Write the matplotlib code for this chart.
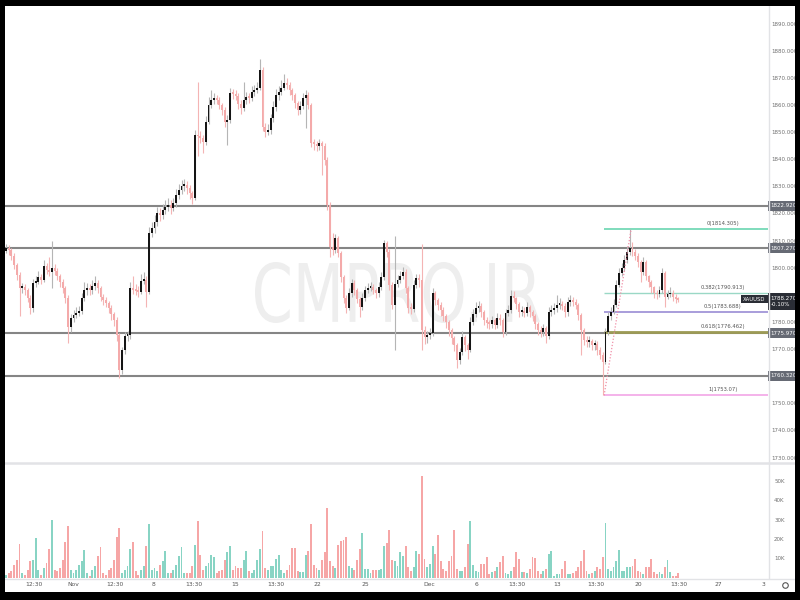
import matplotlib
matplotlib.use("Agg")
import matplotlib.pyplot as plt
import numpy as np
from matplotlib.patches import Rectangle, PathPatch
from matplotlib.lines import Line2D
from matplotlib.textpath import TextPath
from matplotlib.font_manager import FontProperties
from matplotlib.transforms import Affine2D, blended_transform_factory

# ---------------- data (XAUUSD, 4h bars) ----------------
first_open = 1806.5
closes = [
    1807.4, 1806.7, 1804.5, 1801.2, 1797.5, 1792.7, 1793.0, 1791.9, 1789.0, 1785.3,
    1794.5, 1794.9, 1796.7, 1795.6, 1800.8, 1799.3, 1798.6, 1800.0, 1798.9, 1797.1,
    1794.9, 1792.7, 1789.0, 1778.3, 1781.6, 1782.7, 1783.5, 1784.2, 1789.0, 1791.9,
    1792.3, 1791.9, 1793.4, 1794.5, 1792.7, 1789.4, 1788.2, 1787.1, 1785.3, 1783.1,
    1780.9, 1775.3, 1762.4, 1769.8, 1775.0, 1775.3, 1792.7, 1791.9, 1791.6, 1791.2,
    1795.3, 1795.6, 1791.2, 1813.0, 1814.8, 1817.0, 1820.3, 1819.6, 1821.5, 1822.5,
    1823.3, 1822.2, 1824.0, 1827.0, 1828.8, 1830.3, 1830.6, 1829.5, 1827.7, 1825.9,
    1849.1, 1848.6, 1848.0, 1846.5, 1853.9, 1860.1, 1862.0, 1862.7, 1862.0, 1860.1,
    1858.3, 1853.9, 1854.6, 1864.6, 1864.2, 1863.5, 1860.5, 1859.0, 1862.0, 1863.1,
    1862.7, 1864.9, 1865.7, 1866.4, 1873.0, 1852.0, 1850.2, 1850.9, 1855.3, 1859.4,
    1863.8, 1864.9, 1866.4, 1868.2, 1867.5, 1865.7, 1863.8, 1860.9, 1858.3, 1859.8,
    1862.7, 1863.8, 1860.1, 1846.1, 1845.8, 1845.0, 1846.1, 1845.0, 1839.9, 1823.3,
    1807.8, 1806.7, 1811.1, 1805.6, 1796.7, 1789.0, 1785.3, 1790.8, 1794.5, 1791.9,
    1788.6, 1785.7, 1789.0, 1791.9, 1792.7, 1793.0, 1791.9, 1790.8, 1793.0, 1796.7,
    1809.3, 1806.0, 1793.8, 1786.4, 1794.1, 1795.6, 1797.1, 1798.6, 1792.7, 1785.3,
    1784.9, 1793.8, 1796.4, 1795.6, 1777.2, 1774.6, 1775.3, 1776.1, 1790.8, 1788.2,
    1786.4, 1784.6, 1782.3, 1780.1, 1777.2, 1774.2, 1771.7, 1766.1, 1769.1, 1774.6,
    1771.7, 1769.8, 1780.1, 1783.1, 1785.3, 1786.0, 1783.8, 1780.9, 1779.7, 1779.4,
    1780.9, 1779.0, 1781.6, 1780.9, 1776.5, 1783.5, 1784.6, 1789.7, 1789.0, 1786.8,
    1783.8, 1784.0, 1783.6, 1785.7, 1783.8, 1782.3, 1779.4, 1777.2, 1776.5, 1777.9,
    1775.0, 1783.8, 1784.6, 1785.3, 1786.4, 1786.7, 1786.0, 1783.8, 1787.5, 1787.8,
    1787.5, 1786.4, 1782.7, 1777.2, 1773.5, 1772.8, 1773.2, 1771.7, 1772.0, 1769.8,
    1768.0, 1765.4, 1776.5, 1782.3, 1783.8, 1786.4, 1793.8, 1798.2, 1800.0, 1803.0,
    1805.9, 1807.4, 1805.9, 1804.5, 1802.3, 1798.6, 1802.3, 1797.1, 1794.9, 1793.0,
    1790.8, 1790.4, 1791.9, 1798.2, 1789.5, 1790.4, 1791.0, 1789.4, 1788.6, 1788.27,
]
highs = [
    1809, 1808.5, 1807.5, 1805.5, 1802, 1798.5, 1794.5, 1794, 1792.5, 1790,
    1796, 1797, 1799, 1798, 1803, 1802, 1804, 1810, 1801.5, 1800,
    1798, 1796, 1793.5, 1790, 1783, 1784.5, 1785.5, 1786, 1791, 1795,
    1794.5, 1794, 1795.5, 1797, 1795.5, 1793.5, 1790.5, 1789.5, 1788, 1786.5,
    1784, 1782, 1776, 1771, 1776.5, 1777, 1795, 1797, 1794, 1793.5,
    1798, 1798.5, 1797, 1815, 1817, 1819.5, 1822.5, 1822, 1823.5, 1825,
    1826, 1825, 1826, 1829, 1831, 1832.5, 1833, 1832, 1830.5, 1828.5,
    1851, 1868.5, 1850.5, 1849, 1856, 1863, 1865.5, 1864.5, 1864, 1863,
    1861, 1859.5, 1856.5, 1866.5, 1866, 1865.5, 1864.5, 1862, 1868.5, 1865,
    1864.5, 1867, 1867.5, 1868.5, 1877, 1874, 1853.5, 1853, 1857, 1861.5,
    1866, 1867, 1869.5, 1871.5, 1870, 1868.5, 1866.5, 1864.5, 1861.5, 1861.5,
    1864.5, 1865.5, 1865, 1861, 1847.5, 1847, 1847.5, 1847, 1846, 1841,
    1824.5, 1813, 1812.5, 1812, 1806.5, 1797.5, 1790, 1792.5, 1796, 1795.5,
    1792.5, 1789.5, 1791, 1793.5, 1794.5, 1795, 1794, 1792.5, 1795, 1798.5,
    1810.5, 1810, 1807, 1795, 1812, 1797.5, 1799, 1800.5, 1799.5, 1793.5,
    1787, 1795.5, 1798, 1798, 1809, 1778.5, 1777, 1778, 1792.5, 1791.5,
    1789, 1787.5, 1785.5, 1783, 1781, 1778, 1775, 1772.5, 1770.5, 1777,
    1775.5, 1772.5, 1782, 1785, 1787.5, 1788, 1787, 1784.5, 1782, 1781,
    1782.5, 1781.5, 1783.5, 1783, 1781.5, 1785, 1786.5, 1792, 1791.5, 1789.5,
    1787.5, 1786, 1785.5, 1787.5, 1786.5, 1784.5, 1783, 1780, 1778.5, 1779.5,
    1778.5, 1785.5, 1786.5, 1787, 1790, 1789, 1788, 1787, 1789.5, 1790,
    1789.5, 1788.5, 1787, 1783.5, 1778, 1775, 1775, 1774, 1773.5, 1773,
    1771, 1769, 1778, 1784, 1785.5, 1788.5, 1795.5, 1800, 1802, 1805,
    1808, 1814.3, 1809.5, 1807, 1805.5, 1803, 1804, 1803, 1797.5, 1795.5,
    1793.5, 1792, 1793.5, 1800, 1799, 1792, 1793, 1792, 1790.5, 1789.5,
]
lows = [
    1805.5, 1805, 1803, 1799.5, 1795.5, 1782.5, 1791, 1790, 1787.5, 1783,
    1784, 1793, 1794, 1794, 1795, 1798, 1797, 1792.5, 1797.5, 1795.5,
    1793, 1791, 1787, 1772.5, 1776.5, 1780, 1781.5, 1782.5, 1783, 1788,
    1790, 1790, 1790.5, 1792, 1791, 1788, 1786.5, 1785.5, 1783.5, 1781,
    1778.5, 1773, 1759.5, 1761, 1768.5, 1773, 1774, 1790.5, 1790, 1789.5,
    1790.5, 1794, 1785.5, 1790.5, 1811.5, 1813, 1815.5, 1817.5, 1818, 1820,
    1821, 1820, 1821, 1822.5, 1825.5, 1827.5, 1828.5, 1827.5, 1825.5, 1823.5,
    1825, 1841.5, 1846, 1842.5, 1845.5, 1853, 1859, 1860.5, 1860.5, 1858.5,
    1856.5, 1852, 1845.5, 1853.5, 1862.5, 1862, 1858.5, 1857, 1858, 1860.5,
    1861, 1861.5, 1863.5, 1864.5, 1865.5, 1850.5, 1848.5, 1849, 1849.5, 1854,
    1858, 1862, 1864, 1865.5, 1866, 1864, 1862, 1859, 1856.5, 1857,
    1858.5, 1851.5, 1858.5, 1844.5, 1843.5, 1843, 1843.5, 1834.5, 1838, 1821.5,
    1804, 1805, 1805.5, 1804, 1795, 1787, 1783.5, 1784.5, 1789.5, 1790,
    1787, 1782, 1784.5, 1788, 1791, 1791.5, 1790.5, 1789, 1789.5, 1792,
    1795.5, 1804, 1792, 1785, 1770, 1793, 1794.5, 1796, 1791, 1783.5,
    1783, 1784, 1792.5, 1793, 1770, 1772, 1772.5, 1774, 1775, 1786.5,
    1784.5, 1782.5, 1780.5, 1778, 1775, 1772, 1769.5, 1763, 1764.5, 1768,
    1769.5, 1766.5, 1769, 1779, 1782, 1784, 1782, 1779, 1778, 1777.5,
    1778, 1777.5, 1778, 1779, 1774.5, 1775.5, 1782.5, 1783.5, 1787.5, 1785,
    1782, 1782.5, 1782, 1782.5, 1782, 1780.5, 1777.5, 1775.5, 1774.5, 1775,
    1772.5, 1774, 1782.5, 1783, 1784, 1785, 1784.5, 1782, 1782.5, 1786,
    1786, 1785, 1781, 1768, 1771.5, 1771, 1771, 1770, 1770, 1768,
    1766.5, 1753.07, 1764.5, 1775.5, 1781, 1783, 1785.5, 1793, 1797, 1799,
    1802, 1805, 1804.5, 1803, 1800.5, 1795, 1797.5, 1795.5, 1793, 1791,
    1789, 1788.5, 1789.5, 1791, 1785.5, 1788.5, 1789.5, 1788, 1787, 1787.5,
]
volumes_k = [
    1.7, 2.5, 3.5, 6.9, 9.5, 17.8, 2.6, 1.7, 4.3, 8.7,
    9.5, 20.8, 4.3, 1.7, 5.2, 7.8, 15.0, 30.0, 4.3, 3.5,
    5.2, 9.5, 18.5, 27.2, 4.3, 2.6, 4.3, 6.9, 8.7, 14.7,
    2.6, 0.9, 4.3, 6.4, 11.3, 16.1, 2.6, 1.7, 4.3, 5.2,
    9.5, 21.3, 26.0, 2.6, 4.3, 6.4, 15.0, 18.9, 3.5, 1.7,
    4.3, 6.1, 16.8, 28.0, 4.3, 5.2, 3.5, 6.9, 8.7, 13.9,
    2.6, 2.6, 4.3, 6.9, 11.3, 16.1, 2.6, 2.6, 2.6, 6.4,
    17.3, 29.4, 12.1, 4.3, 6.1, 7.8, 12.1, 10.7, 2.6, 3.5,
    4.3, 9.5, 13.3, 16.8, 4.3, 6.4, 5.2, 5.2, 9.5, 13.9,
    3.5, 2.6, 4.3, 9.5, 15.0, 24.2, 5.2, 4.3, 6.1, 6.1,
    9.9, 12.1, 4.3, 2.6, 4.3, 6.9, 15.6, 15.6, 3.5, 2.9,
    2.9, 12.1, 13.9, 28.2, 6.9, 5.2, 4.3, 9.5, 13.3, 36.4,
    8.7, 6.1, 5.2, 17.3, 19.0, 19.9, 21.3, 6.4, 5.2, 4.3,
    9.5, 15.0, 23.4, 4.7, 4.7, 2.6, 4.3, 4.0, 4.3, 4.7,
    16.8, 18.2, 25.1, 9.5, 9.0, 6.0, 13.3, 11.6, 16.8, 5.5,
    3.8, 5.5, 14.2, 12.5, 53.2, 9.9, 5.5, 7.3, 16.8, 12.5,
    22.5, 9.0, 4.7, 3.8, 9.0, 11.6, 24.9, 4.7, 3.8, 3.8,
    5.5, 17.7, 29.4, 6.9, 3.8, 2.9, 7.3, 7.3, 10.7, 2.1,
    2.9, 3.8, 5.5, 8.1, 11.6, 2.4, 2.1, 3.8, 5.5, 13.7,
    9.9, 2.9, 2.9, 2.4, 4.7, 10.7, 10.4, 3.8, 2.1, 3.8,
    4.7, 12.5, 14.2, 1.2, 2.1, 2.1, 4.7, 8.7, 2.1, 2.1,
    2.4, 3.8, 5.5, 9.0, 14.5, 3.8, 2.1, 2.4, 3.8, 5.5,
    4.5, 10.7, 28.4, 4.7, 3.8, 5.5, 9.0, 14.5, 3.8, 3.8,
    5.5, 5.9, 6.4, 9.9, 3.8, 2.9, 2.1, 5.5, 5.9, 9.9,
    2.9, 2.1, 2.9, 2.1, 5.5, 9.3, 2.9, 1.2, 1.2, 2.4,
]

# tick labels not hidden behind the price-scale boxes
price_ticks = [1730, 1740, 1750, 1770, 1780, 1800, 1810,
               1820, 1830, 1840, 1850, 1860, 1870, 1880, 1890]
volume_ticks = [10, 20, 30, 40, 50]
h_levels = [1822.92, 1807.27, 1775.97, 1760.32]
fib_labels = ["0(1814.305)", "0.382(1790.913)", "0.5(1783.688)", "0.618(1776.462)", "1(1753.07)"]
fib_levels = [1814.305, 1790.913, 1783.688, 1776.462, 1753.07]
fib_colors = ["#7fdcbc", "#9ad8c6", "#a89ddb", "#9c9a55", "#f2a6e6"]
fib_widths = [1.4, 1.0, 1.4, 2.0, 1.2]
fib_start = 221.5
fib_label_x = 265.5
swing_low_bar, swing_high_bar = 221.5, 231.5
last_price = 1788.27
last_change = "-0.10%"
symbol = "XAUUSD"
time_labels = ["12:30", "Nov", "12:30", "8", "13:30", "15", "13:30", "22", "25",
               "Dec", "6", "13:30", "13", "13:30", "20", "13:30", "27", "3"]
time_pos = [10.4, 24.8, 40.4, 54.8, 69.6, 84.8, 100, 115.2, 133,
            156.7, 174.4, 189.3, 204, 218.5, 234, 249.3, 264, 280.5]

# ---------------- figure ----------------
W, H = 800, 600
fig = plt.figure(figsize=(8, 6), dpi=100, facecolor="black")

def fx(px):
    return px / W

def fy(py):
    return 1 - py / H

fig.patches.append(Rectangle((fx(5), fy(592)), fx(790), 586 / H,
                             transform=fig.transFigure, fc="white", ec="none", zorder=-5))

ax = fig.add_axes([fx(5), fy(462), 763 / W, 456 / H])
axv = fig.add_axes([fx(5), fy(578), 763 / W, 114 / H])
for a in (ax, axv):
    a.set_facecolor("none")
    for s in a.spines.values():
        s.set_visible(False)
    a.set_xticks([])
    a.set_yticks([])

n = len(closes)
x = np.arange(n)
c = np.array(closes)
o = np.array([first_open] + closes[:-1])
hi = np.array(highs)
lo = np.array(lows)
up = c >= o

body_up, body_dn = "#151515", "#f4aaaa"
wick_up, wick_dn = "#b5b5b5", "#f4b4b4"

ax.vlines(x, lo, hi, colors=np.where(up, wick_up, wick_dn), lw=0.8, zorder=3)
ax.bar(x, np.maximum(np.abs(c - o), 0.6), bottom=np.minimum(o, c), width=0.7,
       color=np.where(up, body_up, body_dn), linewidth=0, zorder=4)

# horizontal levels
for lv in h_levels:
    ax.axhline(lv, color="#858585", lw=1.5, zorder=2)

# fib retracement
xr = 282.2
for lab, lv, col, lw in zip(fib_labels, fib_levels, fib_colors, fib_widths):
    ax.hlines(lv, fib_start, xr, colors=col, lw=lw, zorder=2.5)
    ax.text(fib_label_x, lv + 1.1, lab, fontsize=3.8, color="#555555",
            ha="center", va="bottom", zorder=6)
ax.plot([swing_low_bar, swing_high_bar], [fib_levels[4], fib_levels[0]], ls=(0, (1, 1.5)),
        color="#f08fa8", lw=0.9, zorder=5)

# watermark
tp = TextPath((0, 0), "CMPRO.IR", size=100, prop=FontProperties(family="DejaVu Sans"))
bb = tp.get_extents()
tr = (Affine2D().translate(-bb.x0, -bb.y0).scale(285 / bb.width / W, 61 / bb.height / H)
      .translate(fx(255), fy(323)) + fig.transFigure)
wm = PathPatch(tp, transform=tr, fc="#eeeeee", ec="none", zorder=0.5)
ax.add_patch(wm)

ax.set_xlim(-0.37, 282.2)
ax.set_ylim(1728.53, 1896.64)
axv.set_xlim(-0.37, 282.2)
axv.set_ylim(0, 59.2)

# volume
axv.bar(x, volumes_k, width=0.7, color=np.where(up, "#88d4c4", "#f6a6a6"), linewidth=0)

# price scale
fs = 4.0
btr = blended_transform_factory(ax.transAxes, ax.transData)
for t in price_ticks:
    ax.text(1.005, t, f"{t:.3f}", transform=btr, fontsize=fs, color="#707070",
            ha="left", va="center", clip_on=False)
for lv in h_levels:
    ax.text(1.003, lv, f"{lv:.3f}", transform=btr, fontsize=fs, color="white",
            ha="left", va="center", clip_on=False, zorder=20,
            bbox=dict(boxstyle="square,pad=0.45", fc="#666a74", ec="none"))
ax.text(1.003, last_price - 0.6, f"{last_price:.3f}\n{last_change}", transform=btr, fontsize=fs,
        color="white", ha="left", va="center", clip_on=False, zorder=21, linespacing=1.35,
        bbox=dict(boxstyle="square,pad=0.45", fc="#2a2d35", ec="none"))
ax.text(0.997, last_price + 0.3, symbol, transform=btr, fontsize=3.8, color="white",
        ha="right", va="center", clip_on=False, zorder=21,
        bbox=dict(boxstyle="square,pad=0.35", fc="#2a2d35", ec="none"))

vtr = blended_transform_factory(axv.transAxes, axv.transData)
for t in volume_ticks:
    axv.text(1.008, t, f"{t}K", transform=vtr, fontsize=fs, color="#707070",
             ha="left", va="center", clip_on=False)

ttr = blended_transform_factory(axv.transData, axv.transAxes)
for lab, p in zip(time_labels, time_pos):
    axv.text(p, -7 / 114, lab, transform=ttr, fontsize=4.3, color="#555555",
             ha="center", va="center", clip_on=False)

# separators
sep = "#e2e3e6"
fig.add_artist(Line2D([fx(5), fx(795)], [fy(463), fy(463)], color=sep, lw=1.8,
                      transform=fig.transFigure, zorder=1))
fig.add_artist(Line2D([fx(768.5), fx(768.5)], [fy(6), fy(578)], color=sep, lw=1.0,
                      transform=fig.transFigure, zorder=1))
fig.add_artist(Line2D([fx(5), fx(795)], [fy(578.5), fy(578.5)], color=sep, lw=1.0,
                      transform=fig.transFigure, zorder=1))
fig.add_artist(Line2D([fx(785)], [fy(585)], marker="o", mfc="none", mec="#555555",
                      ms=4, mew=0.8, transform=fig.transFigure, zorder=2))

# black frame on top
for (x0, y0, w, h) in [(0, 0, 5, 600), (795, 0, 5, 600), (0, 0, 800, 6), (0, 592, 800, 8)]:
    fig.add_artist(Rectangle((fx(x0), fy(y0 + h)), w / W, h / H, transform=fig.transFigure,
                             fc="black", ec="none", zorder=100))

fig.savefig("out.png", dpi=100, facecolor="black")
